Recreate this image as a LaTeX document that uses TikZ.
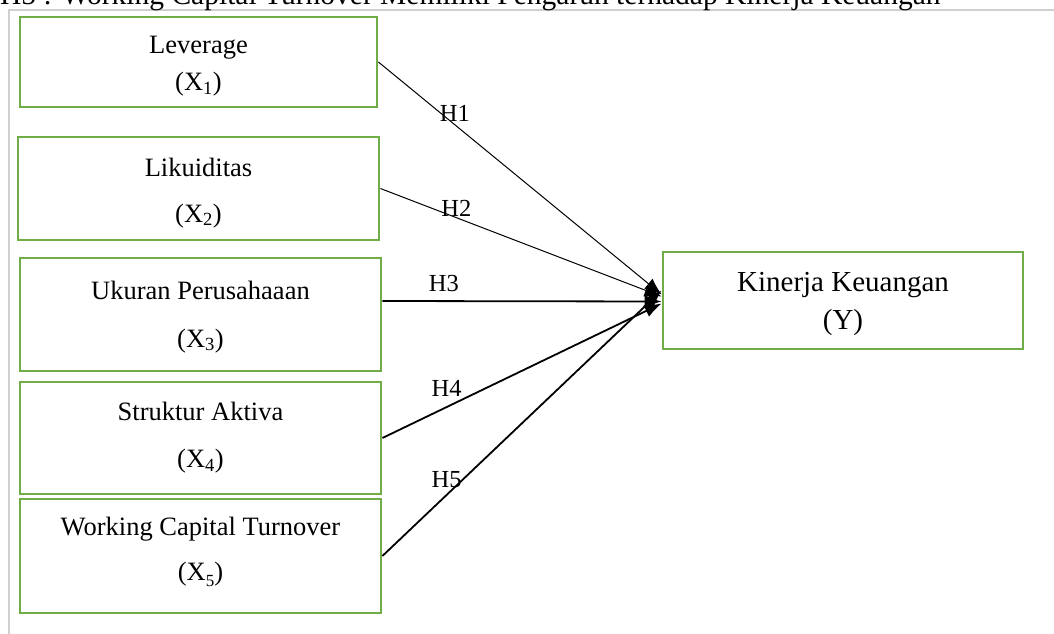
\documentclass[tikz,border=0pt]{standalone}
\usepackage{fontspec}
\setmainfont{Liberation Serif}
\usepackage{tikz}
\usetikzlibrary{arrows.meta}
\definecolor{boxgreen}{RGB}{112,173,71}
\definecolor{framegray}{RGB}{208,208,208}

\begin{document}
\begin{tikzpicture}[x=1pt, y=-1pt,
    varbox/.style={draw=boxgreen, line width=2.8pt, minimum width=361pt, align=center, inner sep=0pt, font=\fontsize{26.5}{37}\selectfont},
    hyp/.style={line width=1.8pt, -{Latex[length=17pt,width=13pt]}},
    hlabel/.style={font=\fontsize{24.5}{28}\selectfont, inner sep=0pt}]
    \clip (0,0) rectangle (1054,634);
    % frame and the heading that is cut off at the top
    \draw[framegray, line width=2pt] (9,640) -- (9,10) -- (1060,10);
    \node[anchor=base west, inner sep=0pt, font=\fontsize{29.5}{32}\selectfont] (head) at (0,5) {H5 : Working Capital Turnover Memiliki Pengaruh terhadap Kinerja Keuangan};

    % variables
    \node[varbox, minimum width=357pt, minimum height=90pt] (lev) at (198.5,62) {\rule{0pt}{26pt}Leverage\\(X\textsubscript{1})};
    \node[varbox, minimum height=103pt] (lik) at (198.5,188.5) {\rule{0pt}{27pt}Likuiditas\\[9pt](X\textsubscript{2})};
    \node[varbox, minimum height=113pt] (uk) at (200.5,314.5) {\rule{0pt}{23pt}Ukuran Perusahaaan\\[11pt](X\textsubscript{3})};
    \node[varbox, minimum height=112pt] (sa) at (200.5,438) {Struktur Aktiva\\[10pt](X\textsubscript{4})};
    \node[varbox, minimum height=114pt] (wct) at (200.5,556) {Working Capital Turnover\\[8pt](X\raisebox{-0.5ex}{\fontsize{17}{17}\selectfont 5})\rule[-14pt]{0pt}{1pt}};
    \node[varbox, minimum width=360pt, minimum height=97pt, font=\fontsize{29}{38}\selectfont] (kin) at (843,300.5) {\rule{0pt}{27pt}Kinerja Keuangan\\(Y)};

    % hypotheses
    \draw[hyp, line width=1pt] (lev.east) -- node[hlabel, pos=0.27, yshift=11pt]{H1} ([yshift=6pt]kin.west);
    \draw[hyp, line width=1pt] (lik.east) -- node[hlabel, pos=0.27, yshift=9pt]{H2} ([yshift=4pt]kin.west);
    \draw[hyp] ([yshift=13.5pt]uk.east) -- node[hlabel, pos=0.22, yshift=18pt]{H3} ([yshift=-1pt]kin.west);
    \draw[hyp] (sa.east) -- node[hlabel, pos=0.23, yshift=19pt]{H4} ([yshift=-3pt]kin.west);
    \draw[hyp] (wct.east) -- node[hlabel, pos=0.23, yshift=15pt]{H5} ([yshift=10pt]kin.west);
\end{tikzpicture}
\end{document}
